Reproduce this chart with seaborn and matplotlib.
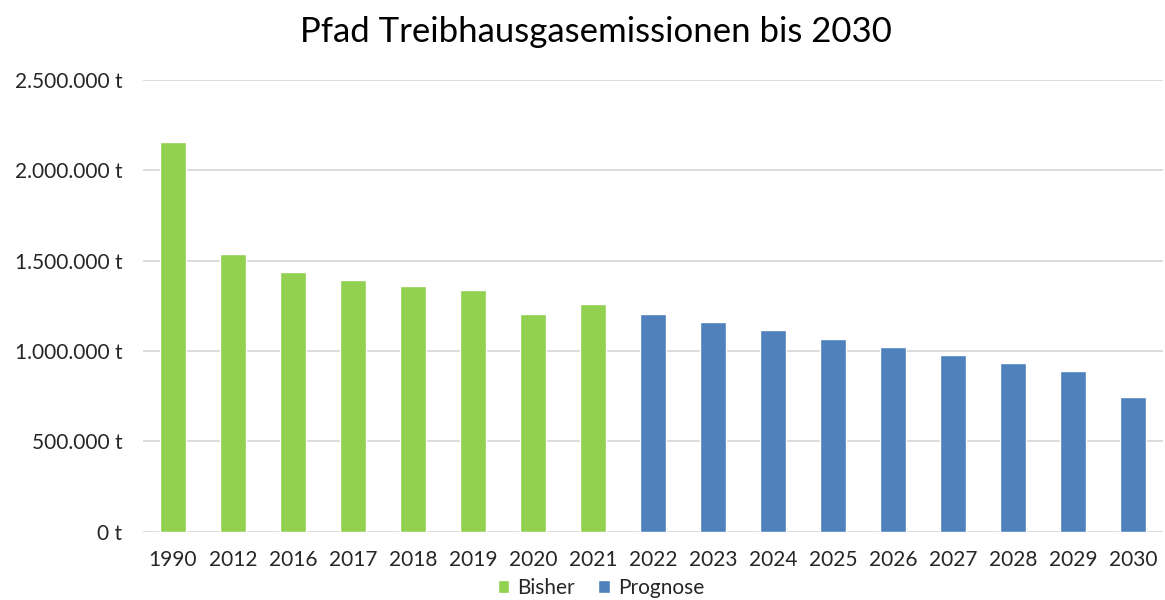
import pandas as pd
import matplotlib.pyplot as plt
import matplotlib.ticker as mticker
import seaborn as sns

# Werte (Tonnen CO2-Äquivalent)
years = ["1990", "2012", "2016", "2017", "2018", "2019", "2020", "2021",
         "2022", "2023", "2024", "2025", "2026", "2027", "2028", "2029", "2030"]
emissions = [2158000, 1535000, 1436000, 1391000, 1358000, 1336000, 1203000, 1258000,
             1203000, 1158000, 1114000, 1068000, 1024000, 979000, 935000, 891000, 747000]
series = ["Bisher"] * 8 + ["Prognose"] * 9
colors = {"Bisher": "#92D050", "Prognose": "#4F81BD"}

df = pd.DataFrame({"Jahr": years, "Emissionen": emissions, "Reihe": series})

sns.set_theme(style="white")
plt.rcParams["font.family"] = ["Lato", "DejaVu Sans"]

fig = plt.figure(figsize=(11.65, 6), dpi=100)
ax = fig.add_axes([143 / 1165, 68.5 / 600, 1020 / 1165, 451.5 / 600])

sns.barplot(data=df, x="Jahr", y="Emissionen", hue="Reihe", palette=colors,
            dodge=False, width=0.43, saturation=1, ax=ax, legend=True)

ax.set_ylim(0, 2500000)
ax.yaxis.set_major_locator(mticker.MultipleLocator(500000))
ax.yaxis.set_major_formatter(
    mticker.FuncFormatter(lambda v, _: f"{int(v):,} t".replace(",", ".")))
ax.grid(axis="y", color="#D9D9D9", linewidth=1.3)
ax.set_axisbelow(True)
for side in ["top", "right", "left", "bottom"]:
    ax.spines[side].set_visible(False)
ax.tick_params(axis="x", length=0, pad=13, labelsize=15, colors="#262626")
ax.tick_params(axis="y", length=0, pad=15, labelsize=15, colors="#262626")
ax.set_xlabel("")
ax.set_ylabel("")
ax.set_xlim(-0.5, len(years) - 0.5)

ax.legend(loc="center", bbox_to_anchor=(601 / 1165, 12 / 600),
          bbox_transform=fig.transFigure, ncol=2, frameon=False,
          fontsize=15, handlelength=0.55, handleheight=0.55, handletextpad=0.4,
          columnspacing=1.1, labelcolor="#262626", borderpad=0)

fig.suptitle("Pfad Treibhausgasemissionen bis 2030", x=596 / 1165, y=1 - 32 / 600,
             va="center", fontsize=25, color="#000000")

fig.savefig("out.png", dpi=100, facecolor="white")
